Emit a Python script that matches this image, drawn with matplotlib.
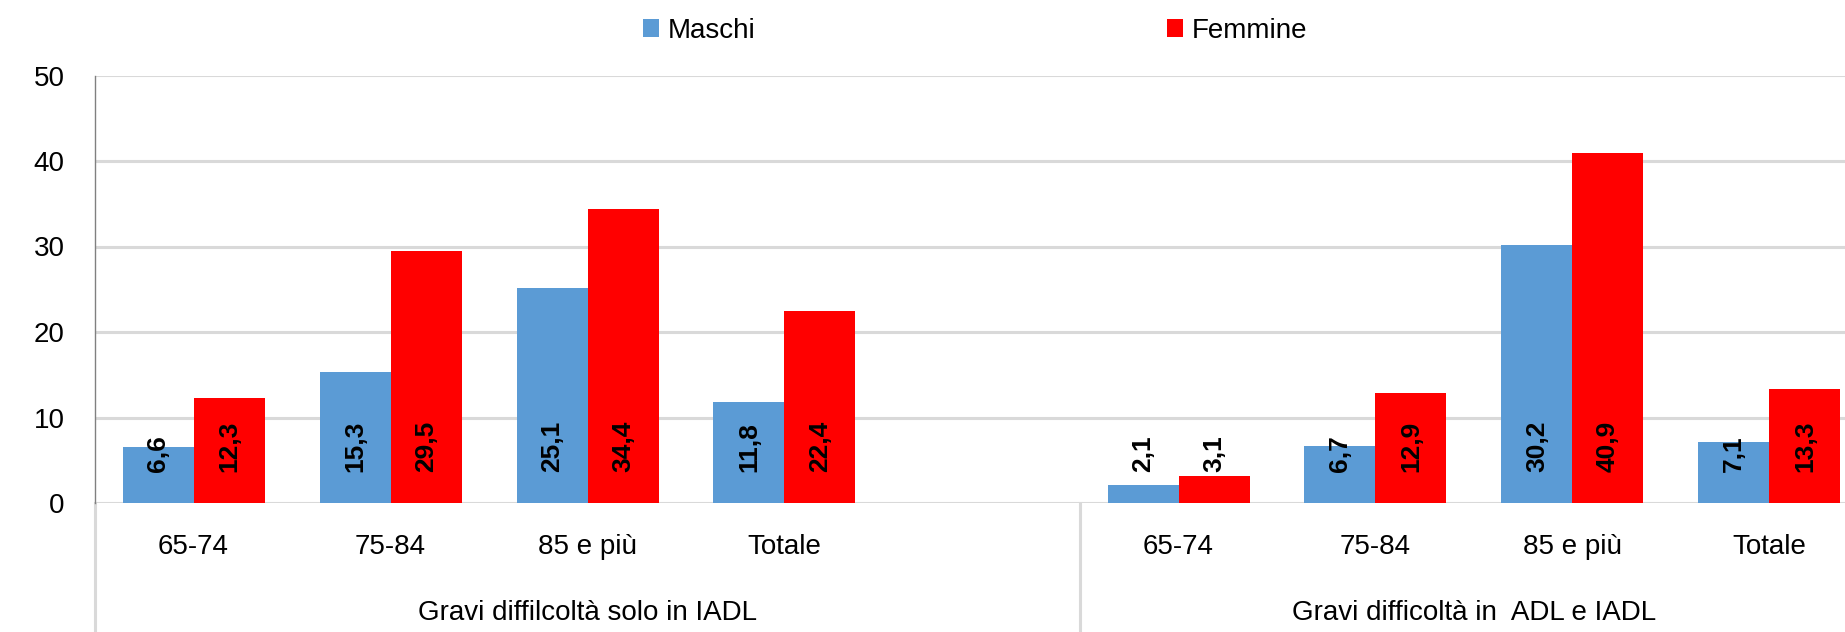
import matplotlib
matplotlib.use("Agg")
import matplotlib.pyplot as plt
from matplotlib import font_manager
import numpy as np

names = {f.name for f in font_manager.fontManager.ttflist}
fam = ['Liberation Sans Narrow'] if 'Liberation Sans Narrow' in names else []
plt.rcParams['font.family'] = fam + ['Liberation Sans', 'DejaVu Sans']
NARROW = bool(fam)

categories = ["65-74", "75-84", "85 e più", "Totale"]
groups = ["Gravi diffilcoltà solo in IADL", "Gravi difficoltà in  ADL e IADL"]
series_names = ["Maschi", "Femmine"]
maschi = [[6.6, 15.3, 25.1, 11.8], [2.1, 6.7, 30.2, 7.1]]
femmine = [[12.3, 29.5, 34.4, 22.4], [3.1, 12.9, 40.9, 13.3]]
yticks = [0, 10, 20, 30, 40, 50]

col_m = "#5B9BD5"
col_f = "#FF0000"
grid_col = "#D9D9D9"
FS = 23 if NARROW else 20
FSB = 23 if NARROW else 19

W, H = 1845, 632
fig = plt.figure(figsize=(W / 100, H / 100), dpi=100)
ax_left, ax_right, ax_top, ax_bot = 95, 95 + 197 * 9, 75.5, 503
ax = fig.add_axes([ax_left / W, 1 - ax_bot / H, (ax_right - ax_left) / W, (ax_bot - ax_top) / H])

# slot positions: group 1 uses slots 0-3 (+1 empty slot), group 2 slots 5-8
group_slots = [[0, 1, 2, 3], [5, 6, 7, 8]]
group_spans = [(-0.5, 4.5), (4.5, 8.5)]
bw = 71 / 197

for g in range(2):
    xs = np.array(group_slots[g], dtype=float)
    bm = ax.bar(xs - bw / 2, maschi[g], width=bw, color=col_m, zorder=3,
                label=series_names[0] if g == 0 else None)
    bf = ax.bar(xs + bw / 2, femmine[g], width=bw, color=col_f, zorder=3,
                label=series_names[1] if g == 0 else None)
    for bars, vals in ((bm, maschi[g]), (bf, femmine[g])):
        for b, v in zip(bars, vals):
            ax.annotate(f"{v:.1f}".replace(".", ","),
                        xy=(b.get_x() + b.get_width() / 2, 0),
                        xytext=(0, 22.5), textcoords="offset points",
                        rotation=90, ha="center", va="bottom",
                        fontsize=FSB, fontweight="bold", color="black", zorder=4)
    for x, c in zip(xs, categories):
        ax.text(x, -44 / (ax_bot - ax_top), c, transform=ax.get_xaxis_transform(),
                ha="center", va="center", fontsize=FS, color="black")
    lo, hi = group_spans[g]
    ax.text((lo + hi) / 2, -110 / (ax_bot - ax_top), groups[g],
            transform=ax.get_xaxis_transform(),
            ha="center", va="center", fontsize=FS, color="black")

# separators below axis
trans = ax.get_xaxis_transform()
ax.plot([-0.5, -0.5], [0, -0.4], transform=trans, color=grid_col, lw=2.2,
        clip_on=False, zorder=2)
ax.plot([-0.5, -0.5], [0, 1], transform=trans, color="#808080", lw=1.0,
        clip_on=False, zorder=5)
for xsep in (4.5, 8.5):
    ax.plot([xsep, xsep], [0, -0.4], transform=trans, color=grid_col, lw=2.2,
            clip_on=False, zorder=2)

ax.set_xlim(-0.5, 8.5)
ax.set_ylim(0, 50)
ax.set_yticks(yticks)
ax.set_yticklabels([str(t) for t in yticks], fontsize=FS, color="black")
ax.set_xticks([])
ax.tick_params(axis="y", length=0, pad=22)
ax.yaxis.grid(True, color=grid_col, lw=2.2, zorder=1)
ax.set_axisbelow(True)
for s in ("top", "right", "left", "bottom"):
    ax.spines[s].set_visible(False)

ax.legend(loc="center", bbox_to_anchor=(975 / W, 1 - 31 / H),
          bbox_transform=fig.transFigure, ncol=2, frameon=False,
          fontsize=FS, handlelength=0.58, handleheight=0.62,
          handletextpad=0.3, columnspacing=412 / (FS * 100 / 72))

fig.savefig("out.png", dpi=100)
